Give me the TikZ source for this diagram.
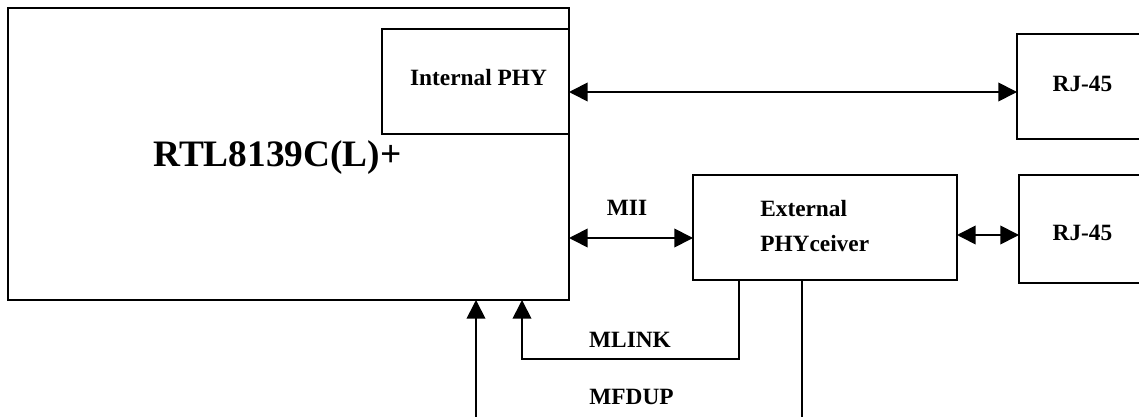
\documentclass[tikz,border=0pt]{standalone}
\usepackage{fontspec}
\setmainfont{Liberation Serif}
\usetikzlibrary{arrows.meta}
\tikzset{
  box/.style={draw, line width=1.3pt, inner sep=0pt, outer sep=0pt, fill=white},
  lbl/.style={font=\bfseries\fontsize{17.5}{20}\selectfont, inner sep=0pt, anchor=base},
  biglbl/.style={font=\bfseries\fontsize{28}{32}\selectfont, inner sep=0pt, anchor=base},
  wire/.style={line width=1.3pt},
  biarrow/.style={wire, {Triangle[length=14pt,width=14pt]}-{Triangle[length=14pt,width=14pt]}},
  oneway/.style={wire, -{Triangle[length=14pt,width=14pt]}}
}
\begin{document}
\begin{tikzpicture}[x=0.75pt,y=-0.75pt]
\useasboundingbox (0,0) rectangle (1139,417);
\clip (0,0) rectangle (1139,417);
\fill[white] (0,0) rectangle (1139,417);
% boxes
\node[box, minimum width=420.75pt, minimum height=219pt] (main) at (288.5,154) {};
\node[box, minimum width=140.25pt, minimum height=78.75pt] (intphy) at (475.5,81.5) {};
\node[box, minimum width=198pt, minimum height=78.75pt] (ext) at (825,227.5) {};
\node[box, minimum width=107.25pt, minimum height=78.75pt] (rjone) at (1088.5,86.5) {};
\node[box, minimum width=105.75pt, minimum height=81pt] (rjtwo) at (1089.5,229) {};
% labels
\node[biglbl] (tmain) at (277.5,167) {RTL8139C(L)+};
\node[lbl] (tint) at (478.5,86) {Internal PHY};
\node[lbl, anchor=base west] (text1) at (760,217) {External};
\node[lbl, anchor=base west] (text2) at (760,252) {PHYceiver};
\node[lbl] (trjone) at (1082.5,92) {RJ-45};
\node[lbl] (trjtwo) at (1082.5,241) {RJ-45};
\node[lbl] (tmii) at (627,215) {MII};
\node[lbl] (tmlink) at (630,347) {MLINK};
\node[lbl] (tmfdup) at (631.5,404) {MFDUP};
% helper coordinates
\coordinate (ya) at (0,92);
\coordinate (yb) at (0,238);
\coordinate (yc) at (0,235);
\coordinate (mlx) at (739,0);
\coordinate (mlt) at (522,0);
\coordinate (mfx) at (802,0);
\coordinate (mft) at (476,0);
\coordinate (mlcornerA) at (739,359);
\coordinate (mlcornerB) at (522,359);
\coordinate (mfcornerA) at (802,440);
\coordinate (mfcornerB) at (476,440);
% connectors
\draw[biarrow] (intphy.east |- ya) -- (rjone.west |- ya);
\draw[biarrow] (main.east |- yb) -- (ext.west |- yb);
\draw[biarrow] (ext.east |- yc) -- (rjtwo.west |- yc);
\draw[oneway] (ext.south -| mlx) -- (mlcornerA) -- (mlcornerB) -- (main.south -| mlt);
\draw[oneway] (ext.south -| mfx) -- (mfcornerA) -- (mfcornerB) -- (main.south -| mft);
\end{tikzpicture}
\end{document}
